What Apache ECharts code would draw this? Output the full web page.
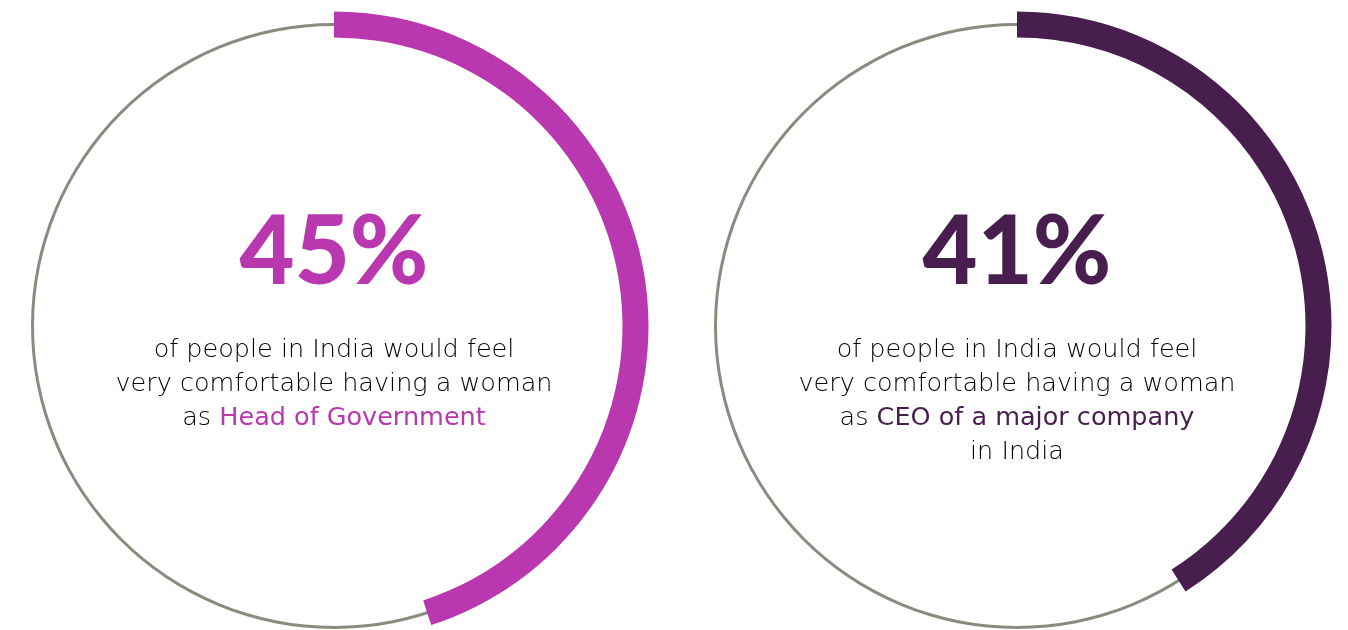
<!DOCTYPE html>
<html>
<head>
<meta charset="utf-8">
<script src="https://cdn.jsdelivr.net/npm/echarts@6/dist/echarts.min.js"></script>
<style>
  html, body { margin: 0; padding: 0; background: #fff; }
  #chart { width: 1348px; height: 630px; }
</style>
</head>
<body>
<div id="chart"></div>
<script>
// data
var percents = [45, 41];
var colors = ['#B937AF', '#481E4E'];
var introLines = ['of people in India would feel', 'very comfortable having a woman'];
var highlights = ['Head of Government', 'CEO of a major company'];
var tailLines = ['', 'in India'];

var centersX = [334, 1017];
var centerY = 326;
var ringColor = '#8A8B7E';
var bodyFont = '"DejaVu Sans"';
var numFont = 'Lato';
var bodySize = 25.5;
var textColor = '#000';

var chart = echarts.init(document.getElementById('chart'));

var series = [];
var graphics = [];
percents.forEach(function (p, i) {
  // thin grey ring
  series.push({
    type: 'pie',
    silent: true,
    center: [centersX[i], centerY],
    radius: [300, 303],
    startAngle: 90,
    label: { show: false },
    itemStyle: { color: ringColor },
    data: [100]
  });
  // thick arc, rest transparent
  series.push({
    type: 'pie',
    silent: true,
    center: [centersX[i], centerY],
    radius: [288.5, 314.5],
    startAngle: 90,
    clockwise: true,
    label: { show: false },
    data: [
      { value: p, itemStyle: { color: colors[i] } },
      { value: 100 - p, itemStyle: { color: 'rgba(0,0,0,0)' } }
    ]
  });

  // big number
  graphics.push({
    type: 'text',
    x: centersX[i],
    y: 253,
    style: {
      text: p + '%',
      fill: colors[i],
      font: '900 95px ' + numFont,
      textAlign: 'center',
      textVerticalAlign: 'middle'
    }
  });

  // description
  var txt = introLines.join('\n') + '\n{n|as }{h|' + highlights[i] + '}';
  if (tailLines[i]) txt += '\n' + tailLines[i];
  graphics.push({
    type: 'text',
    x: centersX[i],
    y: 333,
    style: {
      text: txt,
      fill: textColor,
      font: '300 ' + bodySize + 'px ' + bodyFont,
      lineHeight: 34,
      textAlign: 'center',
      textVerticalAlign: 'top',
      rich: {
        n: { fill: textColor, fontFamily: bodyFont, fontSize: bodySize, fontWeight: 300, lineHeight: 34 },
        h: { fill: colors[i], fontFamily: bodyFont, fontSize: bodySize, fontWeight: 400, lineHeight: 34 }
      }
    }
  });
});

chart.setOption({
  animation: false,
  series: series,
  graphic: { elements: graphics }
});
</script>
</body>
</html>
